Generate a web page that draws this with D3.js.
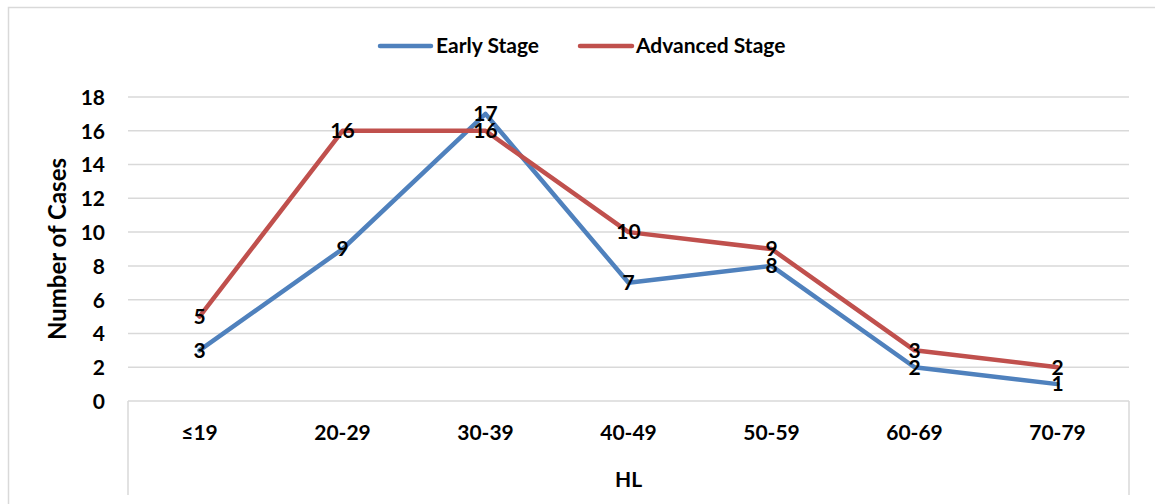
<!DOCTYPE html>
<html><head><meta charset="utf-8">
<script src="https://cdn.jsdelivr.net/npm/d3@7"></script>
<style>body{margin:0;background:#fff}svg{display:block}text{font-family:"Lato","Open Sans",sans-serif;font-weight:bold;fill:#000}</style>
</head><body><svg id="c" width="1155" height="504"></svg>
<script>
const categories = ["≤19","20-29","30-39","40-49","50-59","60-69","70-79"];
const earlyStage = [3,9,17,7,8,2,1];
const advancedStage = [5,16,16,10,9,3,2];
const yTicks = [0,2,4,6,8,10,12,14,16,18];
const seriesNames = ["Early Stage","Advanced Stage"];
const colors = ["#4F81BD","#C0504D"];

const svg = d3.select("#c");
svg.append("rect").attr("x",8.5).attr("y",7.5).attr("width",1160).attr("height",510)
  .attr("fill","#fff").attr("stroke","#d9d9d9").attr("stroke-width",1.5);

const L=128, R=1129, T=97, B=401;
const x = d3.scaleBand().domain(categories).range([L,R]);
const y = d3.scaleLinear().domain([0,18]).range([B,T]);
const FS = "21px";

// gridlines
svg.append("g").selectAll("line").data(yTicks).join("line")
  .attr("x1",L).attr("x2",R).attr("y1",d=>y(d)).attr("y2",d=>y(d))
  .attr("stroke","#d9d9d9").attr("stroke-width",1.5);
// category box verticals
[L,R].forEach(xx=>svg.append("line").attr("x1",xx).attr("x2",xx).attr("y1",B).attr("y2",495)
  .attr("stroke","#d9d9d9").attr("stroke-width",1.5));

// y axis labels
const yAxis = d3.axisLeft(y).tickValues(yTicks).tickSize(0).tickPadding(0);
const gy = svg.append("g").attr("transform",`translate(${L-23},0)`).call(yAxis);
gy.select(".domain").remove();
gy.selectAll("text").style("font-size",FS).attr("dy","0.35em").style("font-family","Lato,sans-serif").style("font-weight","bold");

// x axis labels
const xAxis = d3.axisBottom(x).tickSize(0).tickPadding(0);
const gx = svg.append("g").attr("transform",`translate(0,${B+32})`).call(xAxis);
gx.select(".domain").remove();
gx.selectAll("text").style("font-size",FS).attr("dy","0.35em").style("font-family","Lato,sans-serif").style("font-weight","bold");

// axis titles
svg.append("text").attr("x",(L+R)/2).attr("y",480).attr("dy","0.35em").attr("text-anchor","middle").style("font-size",FS).text("HL");
svg.append("text").attr("transform",`translate(58,${(T+B)/2}) rotate(-90)`).attr("dy","0.35em").attr("text-anchor","middle").style("font-size","24px").text("Number of Cases");

const line = d3.line().x((d,i)=>x(categories[i])+x.bandwidth()/2).y(d=>y(d));
const allSeries=[earlyStage,advancedStage];
allSeries.forEach((s,k)=>{
  svg.append("path").datum(s).attr("d",line).attr("fill","none").attr("stroke",colors[k])
    .attr("stroke-width",4.5).attr("stroke-linejoin","round").attr("stroke-linecap","round");
});
allSeries.forEach((s,k)=>{
  svg.append("g").selectAll("text").data(s).join("text")
    .attr("x",(d,i)=>x(categories[i])+x.bandwidth()/2).attr("y",d=>y(d)).attr("dy","0.35em")
    .attr("text-anchor","middle").style("font-size",FS).text(d=>d);
});

// legend
const leg=[{x0:380,x1:431,tx:436},{x0:580,x1:632,tx:636}];
seriesNames.forEach((n,k)=>{
  svg.append("line").attr("x1",leg[k].x0).attr("x2",leg[k].x1).attr("y1",46).attr("y2",46)
    .attr("stroke",colors[k]).attr("stroke-width",4.5).attr("stroke-linecap","round");
  svg.append("text").attr("x",leg[k].tx).attr("y",46).attr("dy","0.35em").style("font-size",FS).text(n);
});
</script></body></html>
